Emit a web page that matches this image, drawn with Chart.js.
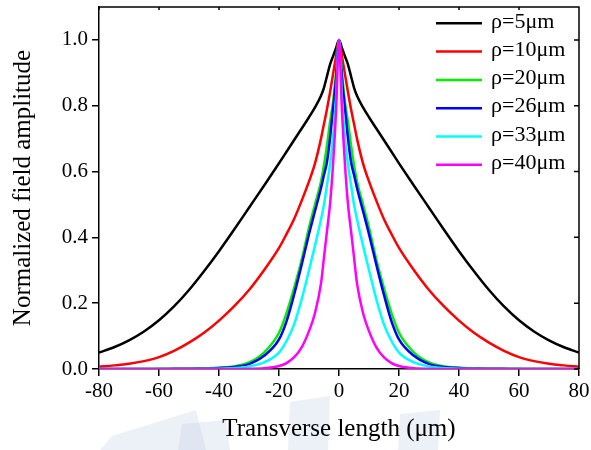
<!DOCTYPE html>
<html lang="en">
<head>
<meta charset="UTF-8">
<title>Normalized field amplitude</title>
<script src="https://cdn.jsdelivr.net/npm/chart.js@4.4.0/dist/chart.umd.min.js"></script>
<style>
  body { margin: 0; background: #fff; }
  #wrap { width: 591px; height: 450px; }
</style>
</head>
<body>
<div id="wrap"><canvas id="fig" width="591" height="450"></canvas></div>
<script>
// transverse positions (um)
var xs = [-80,-75,-70,-65,-60,-55,-50,-45,-40,-35,-30,-25,-20,-17.5,-15,-12.5,-10,-8,-6,-5,-4,-3,-2,-1,
          0,1,2,3,4,5,6,8,10,12.5,15,17.5,20,25,30,35,40,45,50,55,60,65,70,75,80];

// field amplitude, one array per core radius
var rho5  = [0.05,0.066,0.087,0.114,0.148,0.19,0.24,0.297,0.358,0.423,0.49,0.557,0.625,0.66,0.695,0.73,0.765,0.795,0.83,0.855,0.89,0.925,0.95,0.975,
             1.0,0.975,0.95,0.925,0.89,0.855,0.83,0.795,0.765,0.73,0.695,0.66,0.625,0.557,0.49,0.423,0.358,0.297,0.24,0.19,0.148,0.114,0.087,0.066,0.05];
var rho10 = [0.007,0.011,0.016,0.024,0.036,0.055,0.08,0.11,0.147,0.19,0.24,0.3,0.368,0.41,0.455,0.51,0.57,0.625,0.7,0.745,0.79,0.84,0.895,0.95,
             1.0,0.95,0.895,0.84,0.79,0.745,0.7,0.625,0.57,0.51,0.455,0.41,0.368,0.3,0.24,0.19,0.147,0.11,0.08,0.055,0.036,0.024,0.016,0.011,0.007];
var rho20 = [0,0,0,0,0.0005,0.0008,0.001,0.002,0.004,0.008,0.02,0.05,0.11,0.17,0.245,0.33,0.43,0.5,0.57,0.62,0.68,0.75,0.81,0.9,
             1.0,0.9,0.81,0.75,0.68,0.62,0.57,0.5,0.43,0.33,0.245,0.17,0.11,0.05,0.02,0.008,0.004,0.002,0.001,0.0008,0.0005,0,0,0,0];
var rho26 = [0,0,0,0,0,0.0005,0.001,0.0015,0.003,0.006,0.015,0.04,0.09,0.145,0.225,0.315,0.41,0.48,0.55,0.59,0.63,0.7,0.79,0.88,
             1.0,0.88,0.79,0.7,0.63,0.59,0.55,0.48,0.41,0.315,0.225,0.145,0.09,0.04,0.015,0.006,0.003,0.0015,0.001,0.0005,0,0,0,0,0];
var rho33 = [0,0,0,0,0,0,0,0.0005,0.001,0.003,0.008,0.02,0.05,0.085,0.135,0.21,0.3,0.375,0.455,0.5,0.56,0.62,0.7,0.82,
             1.0,0.82,0.7,0.62,0.56,0.5,0.455,0.375,0.3,0.21,0.135,0.085,0.05,0.02,0.008,0.003,0.001,0.0005,0,0,0,0,0,0,0];
var rho40 = [0,0,0,0,0,0,0,0,0,0,0.0005,0.002,0.009,0.018,0.035,0.065,0.115,0.17,0.26,0.34,0.42,0.5,0.62,0.78,
             1.0,0.78,0.62,0.5,0.42,0.34,0.26,0.17,0.115,0.065,0.035,0.018,0.009,0.002,0.0005,0,0,0,0,0,0,0,0,0,0];

var seriesNames = ['ρ=5μm', 'ρ=10μm', 'ρ=20μm', 'ρ=26μm', 'ρ=33μm', 'ρ=40μm'];
var seriesColors = ['#000000', '#ff0000', '#00f000', '#0000ff', '#00ffff', '#ff00ff'];
var xTicks = [-80, -60, -40, -20, 0, 20, 40, 60, 80];
var yTicks = [0, 0.2, 0.4, 0.6, 0.8, 1.0];

var serif = '"Liberation Serif", "Times New Roman", serif';
var allSeries = [rho5, rho10, rho20, rho26, rho33, rho40];

var datasets = allSeries.map(function (arr, i) {
    return {
        label: seriesNames[i],
        data: xs.map(function (x, j) { return { x: x, y: arr[j] }; }),
        borderColor: seriesColors[i],
        borderWidth: 2.5,
        pointRadius: 0,
        fill: false,
        cubicInterpolationMode: 'monotone',
        order: allSeries.length - i
    };
});

// faint logo watermark under the x title
var watermark = {
    id: 'watermark',
    beforeDraw(chart) {
        var c = chart.ctx;
        var shapes = [
            [[100, 450], [112, 436], [196, 410], [206, 450]],
            [[178, 450], [182, 424], [226, 420], [230, 450]],
            [[288, 450], [290, 402], [330, 396], [328, 450]],
            [[398, 450], [400, 414], [440, 410], [438, 450]]
        ];
        c.save();
        c.fillStyle = 'rgba(200,212,232,0.35)';
        shapes.forEach(function (p) {
            c.beginPath();
            c.moveTo(p[0][0], p[0][1]);
            for (var k = 1; k < p.length; k++) c.lineTo(p[k][0], p[k][1]);
            c.closePath();
            c.fill();
        });
        c.restore();
    }
};

// closed frame with inward ticks on top and right
var frame = {
    id: 'frame',
    afterDatasetsDraw(chart) {
        var c = chart.ctx, a = chart.chartArea;
        var sx = chart.scales.x, sy = chart.scales.y;
        c.save();
        c.strokeStyle = '#000';
        c.lineWidth = 1.5;
        c.beginPath();
        c.moveTo(a.left, a.top); c.lineTo(a.right, a.top); c.lineTo(a.right, a.bottom);
        xTicks.forEach(function (v) {
            var px = sx.getPixelForValue(v);
            c.moveTo(px, a.top); c.lineTo(px, a.top + 3);
        });
        yTicks.forEach(function (v) {
            var py = sy.getPixelForValue(v);
            c.moveTo(a.right, py); c.lineTo(a.right - 5, py);
        });
        c.stroke();
        c.restore();
    }
};

var legendLines = {
    id: 'legendLines',
    afterDraw(chart) {
        var c = chart.ctx, a = chart.chartArea;
        c.save();
        c.font = '22px ' + serif;
        c.textBaseline = 'middle';
        c.fillStyle = '#000';
        chart.data.datasets.forEach(function (ds, i) {
            var y = a.top + 16.3 + i * 28.3;
            c.strokeStyle = ds.borderColor;
            c.lineWidth = 2.5;
            c.beginPath();
            c.moveTo(a.right - 143, y);
            c.lineTo(a.right - 97, y);
            c.stroke();
            c.fillText(ds.label, a.right - 88, y - 1.5);
        });
        c.restore();
    }
};

var axisGrid = { drawOnChartArea: false, drawTicks: true, tickLength: 7, color: '#000', lineWidth: 1.5 };

new Chart(document.getElementById('fig'), {
    type: 'line',
    data: { datasets: datasets },
    options: {
        responsive: false,
        animation: false,
        layout: { padding: { top: 7, right: 12, left: 0, bottom: 0 } },
        plugins: { legend: { display: false }, tooltip: { enabled: false } },
        scales: {
            x: {
                type: 'linear',
                min: -80,
                max: 80,
                afterBuildTicks: function (s) { s.ticks = xTicks.map(function (v) { return { value: v }; }); },
                afterFit: function (s) { s.height = 81; s.paddingLeft = 0; s.paddingRight = 0; },
                ticks: {
                    color: '#000',
                    font: { family: serif, size: 21 },
                    padding: 3,
                    maxRotation: 0,
                    autoSkip: false,
                    callback: function (v) { return String(v); }
                },
                grid: axisGrid,
                border: { color: '#000', width: 1.5 },
                title: {
                    display: true,
                    text: 'Transverse length (μm)',
                    color: '#000',
                    font: { family: serif, size: 25 },
                    padding: { top: 0, bottom: 6 }
                }
            },
            y: {
                min: 0,
                max: 1.1,
                afterBuildTicks: function (s) { s.ticks = yTicks.map(function (v) { return { value: v }; }); },
                afterFit: function (s) { s.width = 99; s.paddingTop = 0; s.paddingBottom = 0; },
                ticks: {
                    color: '#000',
                    font: { family: serif, size: 21 },
                    padding: 4,
                    autoSkip: false,
                    callback: function (v) { return v.toFixed(1); }
                },
                grid: axisGrid,
                border: { color: '#000', width: 1.5 },
                title: {
                    display: true,
                    text: 'Normalized field amplitude',
                    color: '#000',
                    font: { family: serif, size: 25 },
                    padding: { top: 8, bottom: 0 }
                }
            }
        }
    },
    plugins: [watermark, frame, legendLines]
});
</script>
</body>
</html>
